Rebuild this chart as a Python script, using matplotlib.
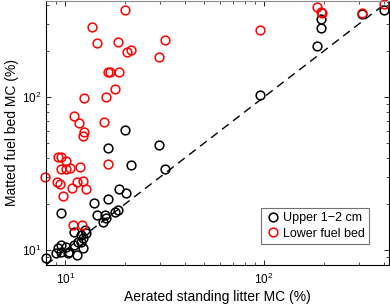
import matplotlib
matplotlib.use("Agg")
import matplotlib.pyplot as plt
import numpy as np

plt.rcParams.update({"font.family": ["Liberation Sans", "DejaVu Sans"], "font.size": 8})

# Upper 1-2 cm (black)
upper_x = [400, 311, 193, 194, 185, 95.5, 20.0, 29.7, 16.4, 21.3, 31.9, 18.7, 20.3,
           14.0, 16.5, 9.5, 14.5, 15.9, 16.05, 17.7, 18.4, 15.4, 12.7, 9.55, 9.2,
           9.55, 10.1, 10.5, 11.1, 11.6, 11.1, 12.0, 12.3, 12.0, 12.5, 11.4, 12.3,
           8.0, 10.3, 9.0]
upper_y = [370, 349, 323, 284, 215, 103, 60.6, 48.8, 46.2, 36.1, 34.0, 24.9, 23.5,
           20.4, 21.6, 17.4, 16.9, 16.9, 16.1, 17.8, 18.3, 15.3, 12.9, 10.8, 10.3,
           9.75, 10.5, 9.75, 10.8, 11.3, 13.2, 12.5, 11.9, 11.3, 13.5, 9.3, 10.3,
           8.9, 9.5, 9.5]

# Lower fuel bed (red)
lower_x = [20.0, 13.7, 14.5, 18.5, 20.5, 21.5, 31.9, 29.7, 16.5, 16.7, 18.7, 17.7,
           12.4, 16.0, 95.5, 185, 194, 197, 311, 400, 11.1, 11.7, 15.7, 12.4, 12.3,
           16.4, 9.2, 9.5, 10.1, 9.55, 10.1, 10.6, 11.9, 7.95, 9.1, 9.4, 11.4, 12.3,
           10.8, 12.7, 9.7, 10.9, 12.2]
lower_y = [369, 287, 226, 230, 198, 202, 236, 182, 146, 146, 146, 113,
           99, 100, 274, 389, 358, 353, 352, 405, 75, 68, 69, 59, 56,
           36.5, 40.4, 40.4, 38.2, 33.7, 33.8, 34.2, 34.7, 30.1, 28, 27, 28, 28.4,
           25.3, 24.9, 22.6, 14.6, 14.6]

lims = [8, 425]

fig = plt.figure(figsize=(3.9, 3.08), dpi=100)
ax = fig.add_axes([0.118, 0.14, 0.879, 0.857])
ax.plot(lims, lims, "k--", linewidth=1.0, dashes=(6, 4))
ax.plot(upper_x, upper_y, "o", mfc="none", mec="black", ms=6.3, mew=1.1,
        label="Upper 1\u22122 cm", clip_on=False)
ax.plot(lower_x, lower_y, "o", mfc="none", mec="red", ms=6.3, mew=1.1,
        label="Lower fuel bed", clip_on=False)
ax.set_xscale("log"); ax.set_yscale("log")
ax.set_xlim(lims); ax.set_ylim(lims)
ax.tick_params(which="both", direction="in", top=True, right=True, labelsize=8.5)
ax.tick_params(axis="x", which="major", pad=5)
ax.tick_params(which="major", length=3.5, width=0.6)
ax.tick_params(which="minor", length=2, width=0.5)
for s in ax.spines.values():
    s.set_linewidth(0.8)
ax.spines["top"].set_color("0.55")
ax.set_xlabel("Aerated standing litter MC (%)", fontsize=10, labelpad=2)
ax.set_ylabel("Matted fuel bed MC (%)", fontsize=10, labelpad=2)
leg = ax.legend(loc="lower right", fontsize=9, fancybox=False, edgecolor="0.3",
                handletextpad=0.1, borderpad=0.35, labelspacing=0.3,
                handlelength=1.3, bbox_to_anchor=(0.96, 0.055))
leg.get_frame().set_linewidth(0.8)

fig.savefig("out.png", dpi=100)
